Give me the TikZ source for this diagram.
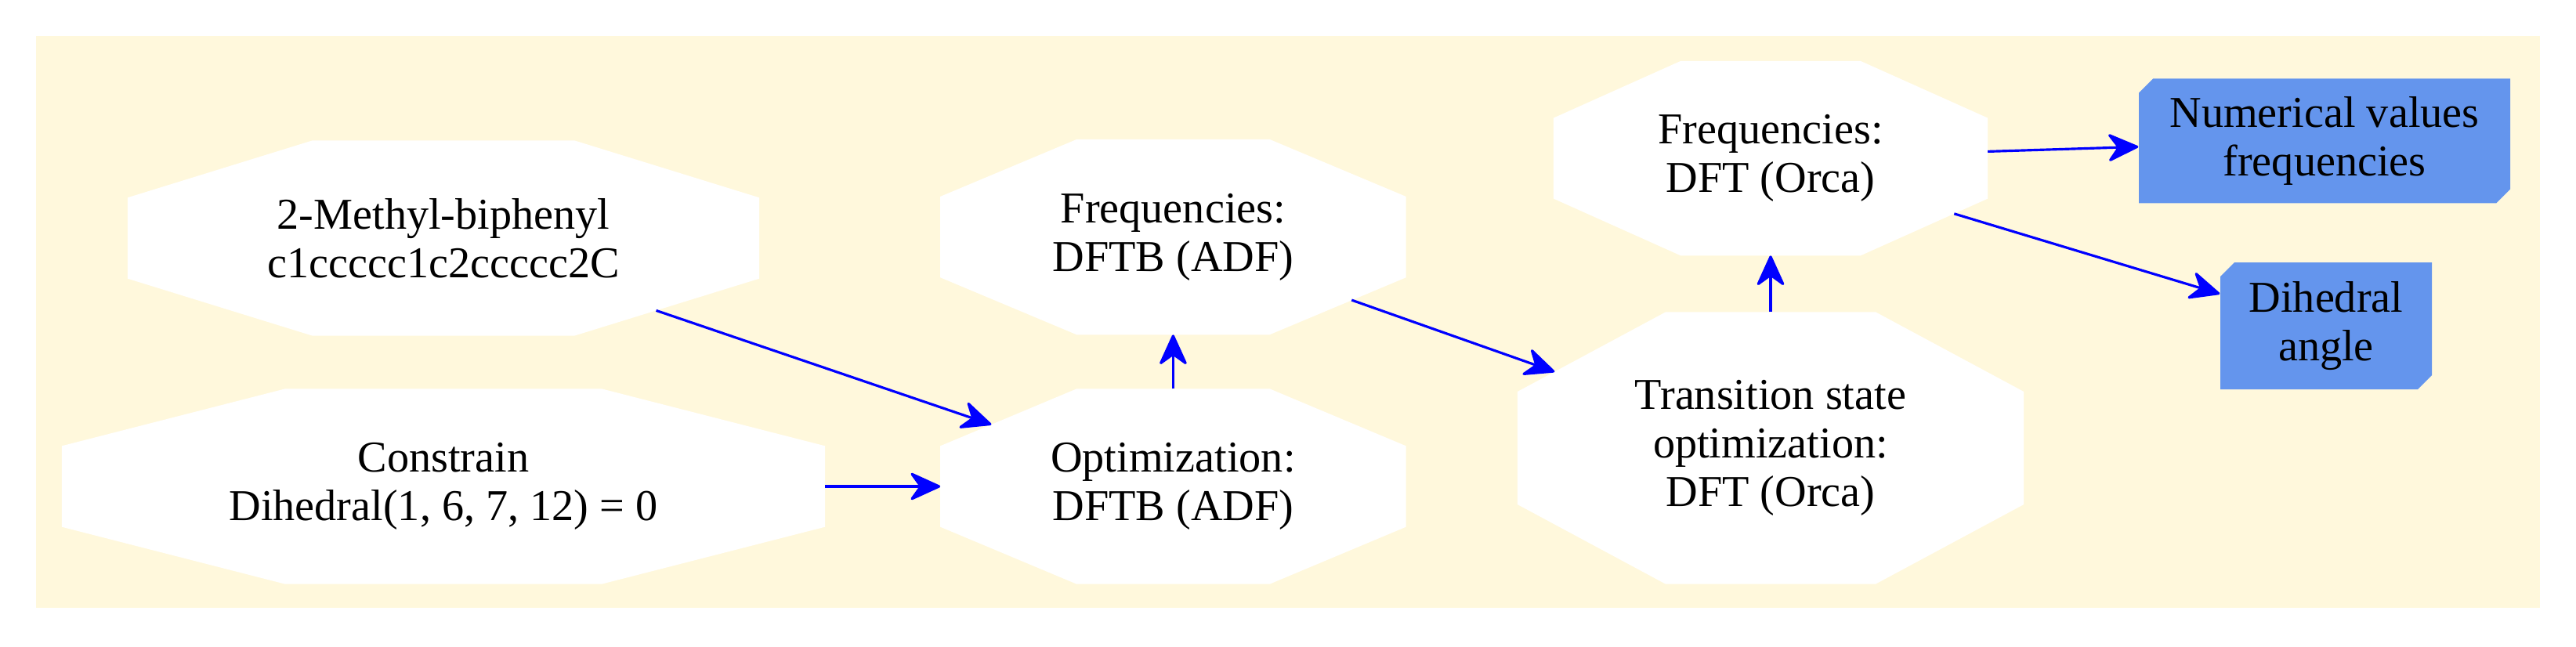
\documentclass[tikz,border=0pt]{standalone}
\usepackage{fontspec}
\setmainfont{Liberation Serif}
\usetikzlibrary{arrows.meta,positioning}

% octagon as drawn by graphviz (corners cut at 0.293 of width and height)
\makeatletter
\pgfdeclareshape{gvoctagon}{%
  \inheritsavedanchors[from=rectangle]%
  \inheritanchor[from=rectangle]{center}%
  \inheritanchor[from=rectangle]{north}%
  \inheritanchor[from=rectangle]{south}%
  \inheritanchor[from=rectangle]{east}%
  \inheritanchor[from=rectangle]{west}%
  \backgroundpath{%
    \southwest \edef\oct@l{\the\pgf@x}\edef\oct@b{\the\pgf@y}%
    \northeast \edef\oct@r{\the\pgf@x}\edef\oct@t{\the\pgf@y}%
    \pgfmathsetlengthmacro\oct@cx{0.2929*((\oct@r)-(\oct@l))}%
    \pgfmathsetlengthmacro\oct@cy{0.2929*((\oct@t)-(\oct@b))}%
    \pgfpathmoveto{\pgfpoint{\oct@l+\oct@cx}{\oct@t}}%
    \pgfpathlineto{\pgfpoint{\oct@r-\oct@cx}{\oct@t}}%
    \pgfpathlineto{\pgfpoint{\oct@r}{\oct@t-\oct@cy}}%
    \pgfpathlineto{\pgfpoint{\oct@r}{\oct@b+\oct@cy}}%
    \pgfpathlineto{\pgfpoint{\oct@r-\oct@cx}{\oct@b}}%
    \pgfpathlineto{\pgfpoint{\oct@l+\oct@cx}{\oct@b}}%
    \pgfpathlineto{\pgfpoint{\oct@l}{\oct@b+\oct@cy}}%
    \pgfpathlineto{\pgfpoint{\oct@l}{\oct@t-\oct@cy}}%
    \pgfpathclose
  }%
  \anchorborder{%
    \edef\oct@dx{\the\pgf@x}\edef\oct@dy{\the\pgf@y}%
    \southwest \edef\oct@l{\the\pgf@x}\edef\oct@b{\the\pgf@y}%
    \northeast \edef\oct@r{\the\pgf@x}\edef\oct@t{\the\pgf@y}%
    \pgfmathsetmacro\oct@a{((\oct@r)-(\oct@l))/2}%
    \pgfmathsetmacro\oct@h{((\oct@t)-(\oct@b))/2}%
    \pgfmathsetmacro\oct@len{max(veclen(\oct@dx,\oct@dy),0.01)}%
    \pgfmathsetmacro\oct@ux{max(abs(\oct@dx)/\oct@len,0.05)}%
    \pgfmathsetmacro\oct@uy{max(abs(\oct@dy)/\oct@len,0.05)}%
    \pgfmathsetmacro\oct@s{min(min(\oct@a/\oct@ux,\oct@h/\oct@uy),1.4142/(\oct@ux/\oct@a+\oct@uy/\oct@h))/\oct@len}%
    \pgfmathsetlengthmacro\oct@px{\oct@s*(\oct@dx)+((\oct@l)+(\oct@r))/2}%
    \pgfmathsetlengthmacro\oct@py{\oct@s*(\oct@dy)+((\oct@b)+(\oct@t))/2}%
    \pgf@x=\oct@px\relax
    \pgf@y=\oct@py\relax
  }%
}
\makeatother

\definecolor{csilk}{RGB}{255, 248, 220}
\definecolor{cflower}{RGB}{100, 149, 237}
\definecolor{gvblue}{RGB}{0, 0, 255}

\tikzstyle{octa} = [gvoctagon, fill=white, inner sep=0pt, align=center,
  minimum height=2.48cm, font=\fontsize{16}{17.6}\selectfont]
\tikzstyle{note} = [rectangle, inner sep=0pt, align=center,
  font=\fontsize{16}{17.6}\selectfont,
  path picture={
    \fill[cflower] ([xshift=1.8mm]path picture bounding box.north west)
      -- (path picture bounding box.north east)
      -- ([yshift=1.8mm]path picture bounding box.south east)
      -- ([xshift=-1.8mm]path picture bounding box.south east)
      -- (path picture bounding box.south west)
      -- ([yshift=-1.8mm]path picture bounding box.north west) -- cycle;
  }]
\tikzstyle{line} = [draw, line width=0.9pt, color=gvblue,
  -{Stealth[length=4.3mm, width=3.9mm, inset=1.4mm, round]}]

\begin{document}
\begin{tikzpicture}

  \useasboundingbox (0,0) rectangle (32.88,8.25);
  \fill[csilk] (0.46,0.49) rectangle (32.42,7.79);

  %%%%%%%%%%%%%%%%%%%%%%%%%%%%%%%%%%%%%%%%%%%%%%%%%%%%%%%%%%%%%%
  %                   INPUT                                    %
  %%%%%%%%%%%%%%%%%%%%%%%%%%%%%%%%%%%%%%%%%%%%%%%%%%%%%%%%%%%%%%

  \node [octa, minimum width=8.05cm] at (5.66,5.21) (molecule) {
    2-Methyl-biphenyl\\c1ccccc1c2ccccc2C
  };
  \node [octa, minimum width=9.73cm] at (5.66,2.04) (constrain) {
    Constrain\\Dihedral(1, 6, 7, 12) = 0
  };

  %%%%%%%%%%%%%%%%%%%%%%%%%%%%%%%%%%%%%%%%%%%%%%%%%%%%%%%%%%%%%%
  %                   DFTB (ADF)                               %
  %%%%%%%%%%%%%%%%%%%%%%%%%%%%%%%%%%%%%%%%%%%%%%%%%%%%%%%%%%%%%%

  \node [octa, minimum width=5.93cm, right = 1.47cm of constrain] (dftb-opt) {
    Optimization:\\DFTB (ADF)
  };
  \node [octa, minimum width=5.93cm, above = 0.69cm of dftb-opt] (dftb-freq) {
    Frequencies:\\DFTB (ADF)
  };
  \draw[line] (molecule) -- (dftb-opt);
  \draw[line] (constrain) -- (dftb-opt);
  \draw[line] (dftb-opt) -- (dftb-freq);

  %%%%%%%%%%%%%%%%%%%%%%%%%%%%%%%%%%%%%%%%%%%%%%%%%%%%%%%%%%%%%%
  %                   DFT (ORCA)                               %
  %%%%%%%%%%%%%%%%%%%%%%%%%%%%%%%%%%%%%%%%%%%%%%%%%%%%%%%%%%%%%%

  \node [octa, minimum width=6.45cm, minimum height=3.46cm] at (22.60,2.53) (dft-ts) {
    Transition state\\optimization:\\DFT (Orca)
  };
  \node [octa, minimum width=5.53cm, minimum height=2.47cm, above = 0.72cm of dft-ts] (dft-freq) {
    Frequencies:\\DFT (Orca)
  };
  \draw[line] (dftb-freq) -- (dft-ts);
  \draw[line] (dft-ts) -- (dft-freq);

  %%%%%%%%%%%%%%%%%%%%%%%%%%%%%%%%%%%%%%%%%%%%%%%%%%%%%%%%%%%%%%
  %                   RESULTS                                  %
  %%%%%%%%%%%%%%%%%%%%%%%%%%%%%%%%%%%%%%%%%%%%%%%%%%%%%%%%%%%%%%

  \node [note, minimum width=4.74cm, minimum height=1.59cm] at (29.67,6.45) (frequencies) {
    Numerical values\\frequencies
  };
  \node [note, minimum width=2.70cm, minimum height=1.62cm] at (29.69,4.09) (dihedral) {
    Dihedral\\angle
  };
  \draw[line] (dft-freq) -- (frequencies);
  \draw[line] (dft-freq) -- (dihedral);

\end{tikzpicture}
\end{document}
